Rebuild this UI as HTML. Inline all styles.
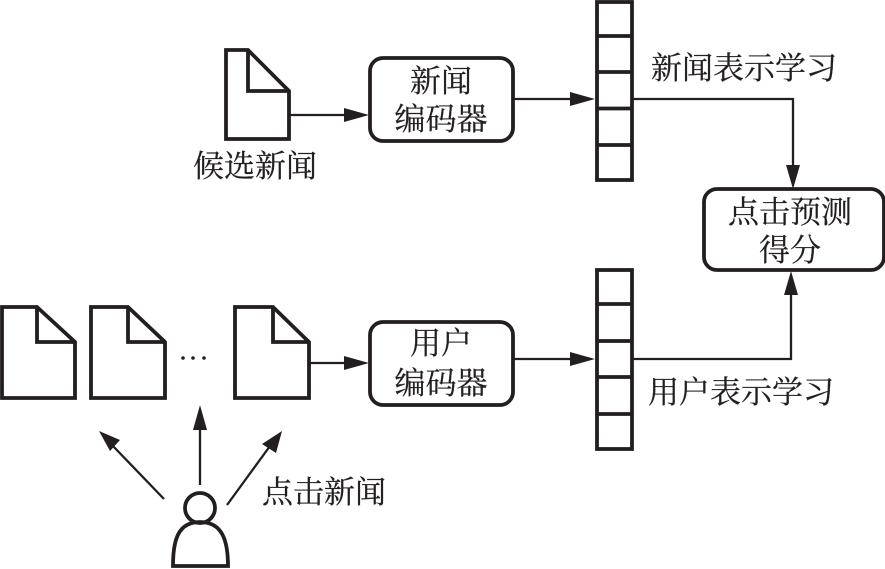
<!DOCTYPE html>
<html lang="zh">
<head>
<meta charset="utf-8">
<style>
html,body{margin:0;padding:0;background:#fff;width:885px;height:569px;overflow:hidden}
svg{display:block}
text{font-family:"Liberation Serif","Noto Serif CJK SC",serif;font-size:31px;fill:#231f20;stroke:#231f20;stroke-width:.25;text-anchor:middle}
.s{fill:#fff;stroke:#231f20;stroke-width:3.8}
.n{fill:none;stroke:#231f20;stroke-width:3.8;stroke-linejoin:miter}
.l{fill:none;stroke:#231f20;stroke-width:2.3}
.h{fill:#231f20}
</style>
</head>
<body>
<svg width="885" height="569" viewBox="0 0 885 569" xmlns="http://www.w3.org/2000/svg">
<!-- candidate doc -->
<path class="s" d="M226 50H248L289 91V139H226Z"/>
<path class="n" d="M248 50V91H289"/>
<text x="255" y="177">候选新闻</text>
<!-- arrow doc to news encoder -->
<path class="l" d="M290 115H346"/><path class="h" d="M344 108L369 115L344 122Z"/>
<!-- news encoder -->
<rect class="s" x="370" y="58" width="143" height="83" rx="13"/>
<text x="441" y="92">新闻</text>
<text x="441" y="130">编码器</text>
<!-- arrow -->
<path class="l" d="M513 99H572"/><path class="h" d="M570 92L595 99L570 106Z"/>
<!-- news vector -->
<rect class="s" x="597" y="2" width="35" height="178"/>
<path class="n" d="M597 36H632M597 72H632M597 108.500H632M597 145H632"/>
<text x="744" y="79">新闻表示学习</text>
<path class="l" d="M633 99H793V167"/><path class="h" d="M786 165L793 189L800 165Z"/>
<!-- score box -->
<rect class="s" x="704" y="189" width="180" height="81" rx="13"/>
<text x="790" y="223">点击预测</text>
<text x="790" y="261">得分</text>
<!-- clicked docs -->
<path class="s" d="M2 307H37L75 342V398H2Z"/><path class="n" d="M37 307V342H75"/>
<path class="s" d="M91 307H128L165 342V398H91Z"/><path class="n" d="M128 307V342H165"/>
<path class="s" d="M235 307H273L309 342V398H235Z"/><path class="n" d="M273 307V342H309"/>
<circle class="h" cx="183" cy="358" r="1.800"/><circle class="h" cx="193" cy="358" r="1.800"/><circle class="h" cx="204" cy="358" r="1.800"/>
<path class="l" d="M310 363H346"/><path class="h" d="M344 356L369 363L344 370Z"/>
<!-- user encoder -->
<rect class="s" x="370" y="322" width="143" height="83" rx="13"/>
<text x="441" y="354">用户</text>
<text x="441" y="394">编码器</text>
<path class="l" d="M513 359H572"/><path class="h" d="M570 352L595 359L570 366Z"/>
<!-- user vector -->
<rect class="s" x="597" y="270" width="35" height="179"/>
<path class="n" d="M597 304H632M597 341H632M597 377H632M597 414H632"/>
<text x="741" y="403">用户表示学习</text>
<path class="l" d="M633 359H791V293"/><path class="h" d="M784 295L791 271L798 295Z"/>
<!-- click arrows -->
<path class="l" d="M164 499L112 445"/><path class="h" d="M99 431L120 440L110 451Z"/>
<path class="l" d="M200 485V428"/><path class="h" d="M193 430L200 405L207 430Z"/>
<path class="l" d="M227 505L270 446"/><path class="h" d="M282 431L276 453L262 444Z"/>
<text x="324" y="503">点击新闻</text>
<!-- person -->
<circle class="n" cx="200" cy="508" r="15"/>
<path class="n" d="M173 566C173 540 178 522 200 522C222 522 228 540 228 566Z"/>
</svg>
</body>
</html>
